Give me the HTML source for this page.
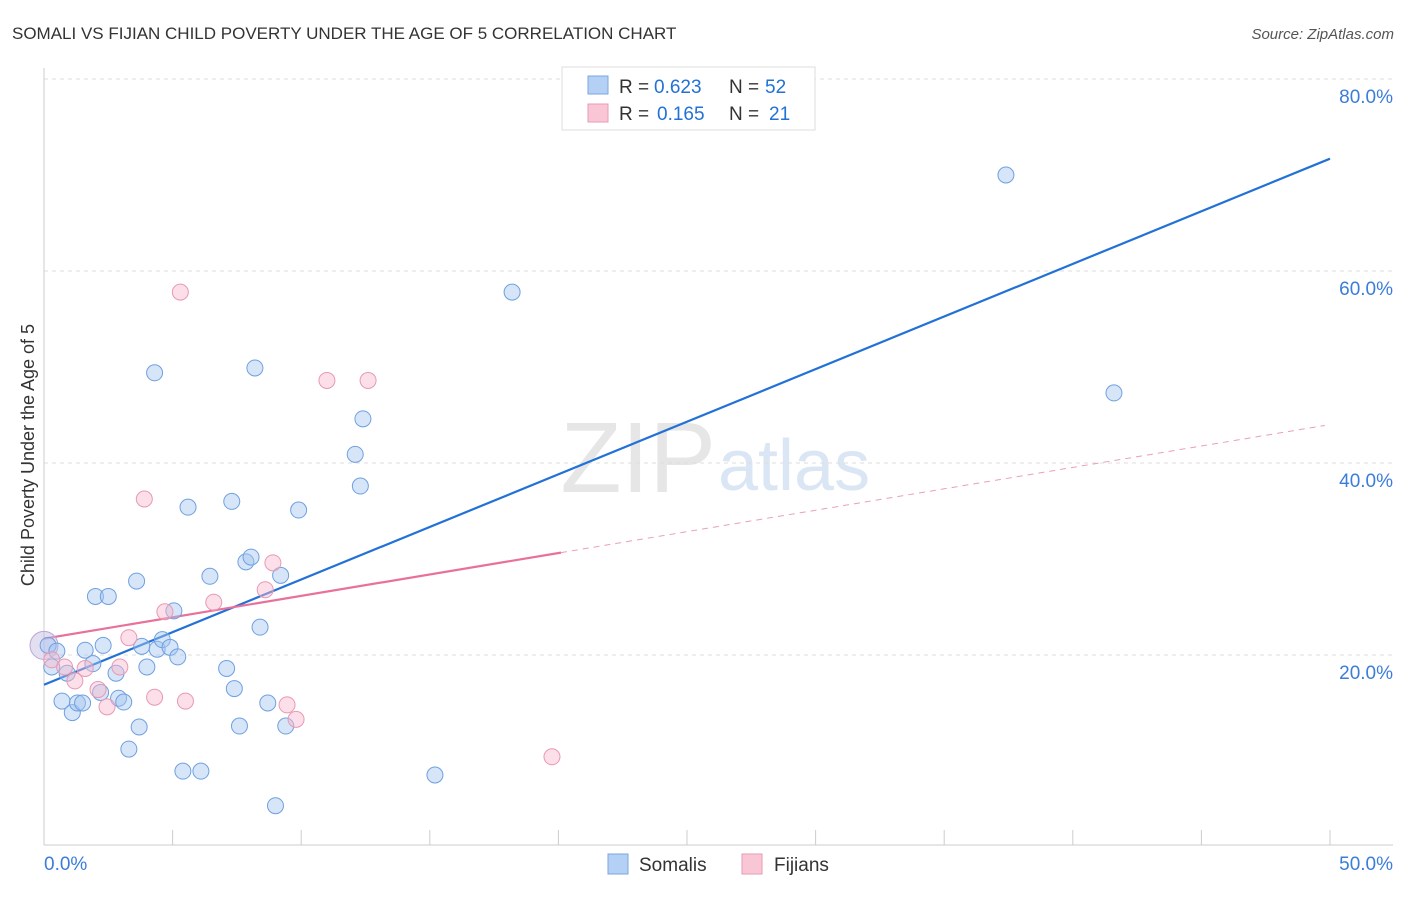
<!DOCTYPE html>
<html><head><meta charset="utf-8"><style>
body{margin:0;background:#fff;font-family:"Liberation Sans",sans-serif;}
svg text{font-family:"Liberation Sans",sans-serif;}
</style></head><body>
<svg id="chart" width="1406" height="892">
<text x="12" y="39" font-size="17" fill="#333">SOMALI VS FIJIAN CHILD POVERTY UNDER THE AGE OF 5 CORRELATION CHART</text>
<text x="1394" y="39" font-size="15" fill="#555" font-style="italic" text-anchor="end">Source: ZipAtlas.com</text>
<text x="716" y="492" font-size="100" fill="#e6e6e6" text-anchor="end" font-family="Liberation Serif">ZIP</text>
<text x="718" y="490" font-size="72" fill="#dbe6f5">atlas</text>
<text transform="translate(34,455) rotate(-90)" font-size="18" fill="#333" text-anchor="middle">Child Poverty Under the Age of 5</text>
<g id="grid"></g><g id="axes"></g><g id="lines"></g><g id="pts"></g>
<g>
<rect x="562" y="67" width="253" height="63" fill="#fff" stroke="#ddd"/>
<rect x="588" y="76" width="20" height="18" fill="#b5d0f5" stroke="#7aa6e0"/>
<text x="619" y="93" font-size="19" fill="#333">R =</text>
<text x="654" y="93" font-size="19" fill="#2271d6">0.623</text>
<text x="729" y="93" font-size="19" fill="#333">N =</text>
<text x="765" y="93" font-size="19" fill="#2271d6">52</text>
<rect x="588" y="104" width="20" height="18" fill="#f9c6d6" stroke="#e899b4"/>
<text x="619" y="120" font-size="19" fill="#333">R =</text>
<text x="657" y="120" font-size="19" fill="#2271d6">0.165</text>
<text x="729" y="120" font-size="19" fill="#333">N =</text>
<text x="769" y="120" font-size="19" fill="#2271d6">21</text>
</g>
<g>
<rect x="608" y="854" width="20" height="20" fill="#b5d0f5" stroke="#7aa6e0"/>
<text x="639" y="871" font-size="19" fill="#333">Somalis</text>
<rect x="742" y="854" width="20" height="20" fill="#f9c6d6" stroke="#e899b4"/>
<text x="774" y="871" font-size="19" fill="#333">Fijians</text>
</g>
</svg>
<script>
const somX=[0.16,0.5,0.3,0.9,2.0,2.5,3.6,2.3,1.6,1.9,0.7,1.1,1.3,1.5,2.2,2.8,2.9,3.1,3.3,3.7,3.8,4.0,4.4,4.6,4.9,5.05,5.2,4.3,5.6,5.4,6.1,6.45,7.1,7.3,7.4,7.6,7.85,8.05,8.2,8.4,8.7,9.0,9.2,9.4,9.9,12.1,12.3,12.4,15.2,18.2,37.4,41.6];
const somY=[21.0,20.4,18.75,18.1,26.1,26.1,27.7,21.0,20.5,19.1,15.2,14.0,15.0,15.0,16.1,18.1,15.5,15.1,10.2,12.5,20.9,18.75,20.6,21.6,20.8,24.6,19.8,49.4,35.4,7.9,7.9,28.2,18.6,36.0,16.5,12.6,29.7,30.2,49.9,22.9,15.0,4.3,28.3,12.6,35.1,40.9,37.6,44.6,7.5,57.8,70.0,47.3];
const fijX=[0.3,0.8,1.2,1.6,2.1,2.45,2.95,3.3,3.9,4.3,4.7,5.3,5.5,6.6,8.6,8.9,9.45,9.8,11.0,12.6,19.75];
const fijY=[19.5,18.75,17.3,18.6,16.4,14.6,18.75,21.8,36.25,15.6,24.5,57.8,15.2,25.5,26.8,29.6,14.8,13.3,48.6,48.6,9.4];
const yTicks=[20,40,60,80];
const xTickLabels=["0.0%","50.0%"];
const somLine=[16.9,71.7];
const fijLine=[21.7,44.0];
const fijSolidEnd=20.1;
const NS="http://www.w3.org/2000/svg";
const X=v=>44+v*25.72, Y=v=>847-v*9.6;
function mk(tag,attrs,parent){const e=document.createElementNS(NS,tag);for(const k in attrs)e.setAttribute(k,attrs[k]);document.getElementById(parent).appendChild(e);return e;}
yTicks.forEach(t=>{
 const l=mk('line',{x1:44,x2:1393,y1:Y(t),y2:Y(t),stroke:'#ddd','stroke-dasharray':'4 4'},'grid');
 
 
 const tx=mk('text',{x:1393,y:Y(t)+24,'font-size':19,fill:'#3b7dd8','text-anchor':'end'},'grid');
 tx.textContent=t.toFixed(1)+'%';
 
 
});
mk('line',{x1:44,x2:44,y1:68,y2:845,stroke:'#ccc'},'axes');
mk('line',{x1:44,x2:1393,y1:845,y2:845,stroke:'#ccc'},'axes');
for(let i=0;i<=10;i++){mk('line',{x1:X(i*5),x2:X(i*5),y1:830,y2:845,stroke:'#ccc'},'axes');}
[[0,'start',44],[50,'end',1393]].forEach((d,i)=>{
 const tx=mk('text',{x:d[2],y:870,'font-size':19,fill:'#3b7dd8','text-anchor':d[1]},'axes');
 tx.textContent=xTickLabels[i];
 
 
});
const sl=mk('line',{x1:X(0),y1:Y(somLine[0]),x2:X(50),y2:Y(somLine[1]),stroke:'#2271d6','stroke-width':2.2},'lines');


const fy=x=>fijLine[0]+(fijLine[1]-fijLine[0])*x/50;
const fl=mk('line',{x1:X(0),y1:Y(fy(0)),x2:X(fijSolidEnd),y2:Y(fy(fijSolidEnd)),stroke:'#e8709a','stroke-width':2.2},'lines');


const fd=mk('line',{x1:X(fijSolidEnd),y1:Y(fy(fijSolidEnd)),x2:X(49.8),y2:Y(fy(49.8)),stroke:'#e8a0b8','stroke-width':1,'stroke-dasharray':'6 5'},'lines');


const big=mk('circle',{cx:X(0),cy:Y(21),r:14,fill:'rgba(200,190,225,0.5)',stroke:'#b9a8d8'},'pts');


somX.forEach((x,i)=>{
 const c=mk('circle',{cx:X(x),cy:Y(somY[i]),r:8,fill:'rgba(165,198,240,0.45)',stroke:'#6fa0e0','stroke-width':1},'pts');
 
 
});
fijX.forEach((x,i)=>{
 const c=mk('circle',{cx:X(x),cy:Y(fijY[i]),r:8,fill:'rgba(248,185,205,0.45)',stroke:'#e899b4','stroke-width':1},'pts');
 
 
});
</script>
</body></html>
